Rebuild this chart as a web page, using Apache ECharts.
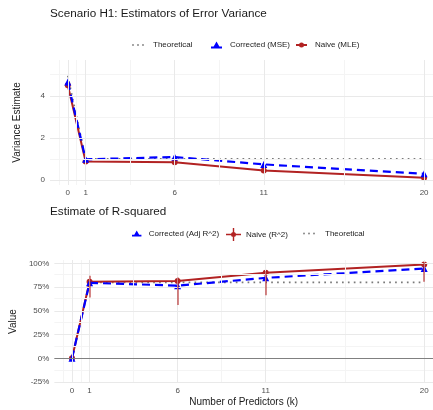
<!DOCTYPE html>
<html>
<head>
<meta charset="utf-8">
<script src="https://cdn.jsdelivr.net/npm/echarts@6/dist/echarts.min.js"></script>
<style>html,body{margin:0;padding:0;background:#fff}#c{width:433px;height:410px}</style>
</head>
<body>
<div id="c"></div>
<script>
// ---- data ----
var kValues = [0, 1, 6, 11, 20];
var xTickLabels = [0, 1, 6, 11, 20];
var xMinorGrid = [-0.5, 0.5, 3.5, 8.5, 15.5];

var varTheoretical = [4.95, 1, 1, 1, 1];
var varCorrected = [4.65, 0.98, 1.09, 0.74, 0.29];
var varNaive = [4.5, 0.88, 0.84, 0.45, 0.1];
var varYTicks = [0, 2, 4];
var varYMinor = [1, 3, 5];

var r2Corrected = [0, 0.795, 0.765, 0.847, 0.945];
var r2Naive = [0, 0.805, 0.815, 0.9, 0.987];
var r2NaiveLow = [0, 0.64, 0.56, 0.665, 0.805];
var r2NaiveHigh = [0, 0.87, 0.85, 0.92, 1.015];
var r2Theoretical = [0, 0.8, 0.8, 0.8, 0.8];
var r2YTicks = [-0.25, 0, 0.25, 0.5, 0.75, 1];
var r2YMinor = [-0.125, 0.125, 0.375, 0.625, 0.875];

// ---- helpers ----
function pairs(xs, ys) { return xs.map(function (x, i) { return [x, ys[i]]; }); }
var FONT = '"Liberation Sans", Arial, sans-serif';
var MAJ = '#e9e9e9', MIN = '#f4f4f4';

function gridMarks(xMaj, xMin, yMaj, yMin) {
  var d = [];
  xMin.forEach(function (v) { d.push({ xAxis: v, lineStyle: { color: MIN, width: 1, type: 'solid' } }); });
  yMin.forEach(function (v) { d.push({ yAxis: v, lineStyle: { color: MIN, width: 1, type: 'solid' } }); });
  xMaj.forEach(function (v) { d.push({ xAxis: v, lineStyle: { color: MAJ, width: 1, type: 'solid' } }); });
  yMaj.forEach(function (v) { d.push({ yAxis: v, lineStyle: { color: MAJ, width: 1, type: 'solid' } }); });
  return d;
}

var chart = echarts.init(document.getElementById('c'), null, { renderer: 'canvas' });

var ICON_DOTS = 'path://M0,1 A1,1 0 1,1 2,1 A1,1 0 1,1 0,1 Z M5,1 A1,1 0 1,1 7,1 A1,1 0 1,1 5,1 Z M10,1 A1,1 0 1,1 12,1 A1,1 0 1,1 10,1 Z';
var ICON_TRI = 'path://M0,5 L11,5 L11,7 L0,7 Z M5.5,0 L9.5,7 L1.5,7 Z';
var ICON_CIRC = 'path://M0,3 L11,3 L11,5 L0,5 Z M3,4 A2.5,2.5 0 1,1 8,4 A2.5,2.5 0 1,1 3,4 Z';
var ICON_CROSS = 'path://M0,5.7 L15,5.7 L15,7.3 L0,7.3 Z M6.8,0 L8.2,0 L8.2,13 L6.8,13 Z M5,6.5 A2.5,2.5 0 1,1 10,6.5 A2.5,2.5 0 1,1 5,6.5 Z';

function legendItem(name, left, top, icon, w, h, textPad) {
  return {
    data: [{ name: name, icon: icon }], left: left, top: top, itemWidth: w, itemHeight: h, itemGap: 5,
    textStyle: { fontFamily: FONT, fontSize: 8, color: '#222', padding: [0, 0, 0, textPad] },
    padding: 0, selectedMode: false
  };
}

var option = {
  animation: false,
  backgroundColor: '#fff',
  textStyle: { fontFamily: FONT },
  title: [
    { text: 'Scenario H1: Estimators of Error Variance', left: 50, top: 8, padding: 0,
      textStyle: { fontFamily: FONT, fontSize: 11.7, fontWeight: 'normal', color: '#1a1a1a' } },
    { text: 'Estimate of R-squared', left: 50, top: 206, padding: 0,
      textStyle: { fontFamily: FONT, fontSize: 11.7, fontWeight: 'normal', color: '#1a1a1a' } }
  ],
  legend: [
    legendItem('Theoretical', 132, 41, ICON_DOTS, 12, 2, 4),
    legendItem('Corrected (MSE)', 211, 41, ICON_TRI, 11, 7, 3),
    legendItem('Naive (MLE)', 296, 41, ICON_CIRC, 11, 5, 3),
    legendItem('Corrected (Adj R^2)', 132, 229.5, ICON_TRI, 10, 6, 2),
    legendItem('Naive (R^2)', 226, 228, ICON_CROSS, 15, 13, 0),
    legendItem('Theoretical', 303, 229.5, ICON_DOTS, 12, 2, 5)
  ],
  grid: [
    { left: 50, top: 60, width: 383, height: 125 },
    { left: 50, top: 260, width: 383, height: 123 }
  ],
  xAxis: [
    { type: 'value', gridIndex: 0, min: -1, max: 20.5,
      axisLine: { show: false }, axisTick: { show: false }, splitLine: { show: false },
      axisLabel: { customValues: xTickLabels, fontSize: 8, color: '#4d4d4d', fontFamily: FONT, margin: 4 } },
    { type: 'value', gridIndex: 1, min: -1, max: 20.5,
      axisLine: { show: false }, axisTick: { show: false }, splitLine: { show: false },
      axisLabel: { customValues: xTickLabels, fontSize: 8, color: '#4d4d4d', fontFamily: FONT, margin: 4 },
      name: 'Number of Predictors (k)', nameLocation: 'middle', nameGap: 14,
      nameTextStyle: { fontFamily: FONT, fontSize: 10, color: '#1a1a1a' } }
  ],
  yAxis: [
    { type: 'value', gridIndex: 0, min: -0.24, max: 5.7,
      axisLine: { show: false }, axisTick: { show: false }, splitLine: { show: false },
      axisLabel: { customValues: varYTicks, fontSize: 8, color: '#4d4d4d', fontFamily: FONT, margin: 5 },
      name: 'Variance Estimate', nameLocation: 'middle', nameGap: 28,
      nameTextStyle: { fontFamily: FONT, fontSize: 10, color: '#1a1a1a' } },
    { type: 'value', gridIndex: 1, min: -0.26, max: 1.035,
      axisLine: { show: false }, axisTick: { show: false }, splitLine: { show: false },
      axisLabel: { customValues: r2YTicks, fontSize: 8, color: '#4d4d4d', fontFamily: FONT, margin: 5,
        formatter: function (v) { return Math.round(v * 100) + '%'; } },
      name: 'Value', nameLocation: 'middle', nameGap: 28,
      nameTextStyle: { fontFamily: FONT, fontSize: 10, color: '#1a1a1a' } }
  ],
  series: [
    { type: 'line', xAxisIndex: 0, yAxisIndex: 0, data: [], z: 0, silent: true,
      markLine: { silent: true, symbol: ['none', 'none'], label: { show: false }, animation: false,
        data: gridMarks(kValues, xMinorGrid, varYTicks, varYMinor) } },
    { type: 'line', xAxisIndex: 1, yAxisIndex: 1, data: [], z: 0, silent: true,
      markLine: { silent: true, symbol: ['none', 'none'], label: { show: false }, animation: false,
        data: gridMarks(kValues, xMinorGrid, r2YTicks, r2YMinor).concat([
          { yAxis: 0, lineStyle: { color: '#808080', width: 1.1, type: 'solid' } }]) } },

    { name: 'Theoretical', type: 'line', xAxisIndex: 0, yAxisIndex: 0, z: 2,
      data: pairs(kValues, varTheoretical), symbol: 'none',
      lineStyle: { color: '#7a7a7a', width: 1.7, type: [1.7, 4.2] }, itemStyle: { color: '#8a8a8a' } },
    { name: 'Naive (MLE)', type: 'line', xAxisIndex: 0, yAxisIndex: 0, z: 3,
      data: pairs(kValues, varNaive), symbol: 'circle', symbolSize: 6,
      lineStyle: { color: '#b22222', width: 2 }, itemStyle: { color: '#b22222' } },
    { name: 'Corrected (MSE)', type: 'line', xAxisIndex: 0, yAxisIndex: 0, z: 4,
      data: pairs(kValues, varCorrected), symbol: 'triangle', symbolSize: 7,
      lineStyle: { color: '#0000ff', width: 2.2, type: [8, 5] }, itemStyle: { color: '#0000ff' } },

    { name: 'Theoretical', type: 'line', xAxisIndex: 1, yAxisIndex: 1, z: 2,
      data: pairs(kValues, r2Theoretical), symbol: 'none',
      lineStyle: { color: '#7a7a7a', width: 1.7, type: [1.7, 4.2] }, itemStyle: { color: '#8a8a8a' } },
    { name: 'Naive (R^2)', type: 'custom', xAxisIndex: 1, yAxisIndex: 1, z: 5,
      data: kValues.map(function (k, i) { return [k, r2NaiveLow[i], r2NaiveHigh[i]]; }),
      encode: { x: 0, y: [1, 2] },
      itemStyle: { color: '#b22222' },
      renderItem: function (params, api) {
        var lo = api.coord([api.value(0), api.value(1)]);
        var hi = api.coord([api.value(0), api.value(2)]);
        var x0 = Math.round(lo[0]) - 1;
        return { type: 'rect', shape: { x: x0, y: hi[1], width: 2, height: lo[1] - hi[1] },
          style: { fill: 'rgba(178,34,34,0.55)', stroke: null } };
      } },
    { name: 'Naive (R^2)', type: 'line', xAxisIndex: 1, yAxisIndex: 1, z: 3,
      data: pairs(kValues, r2Naive), symbol: 'circle', symbolSize: 6,
      lineStyle: { color: '#b22222', width: 2 }, itemStyle: { color: '#b22222' } },
    { name: 'Corrected (Adj R^2)', type: 'line', xAxisIndex: 1, yAxisIndex: 1, z: 4,
      data: pairs(kValues, r2Corrected), symbol: 'triangle', symbolSize: 7,
      lineStyle: { color: '#0000ff', width: 2.2, type: [8, 5] }, itemStyle: { color: '#0000ff' } }
  ]
};
chart.setOption(option);
</script>
</body>
</html>
